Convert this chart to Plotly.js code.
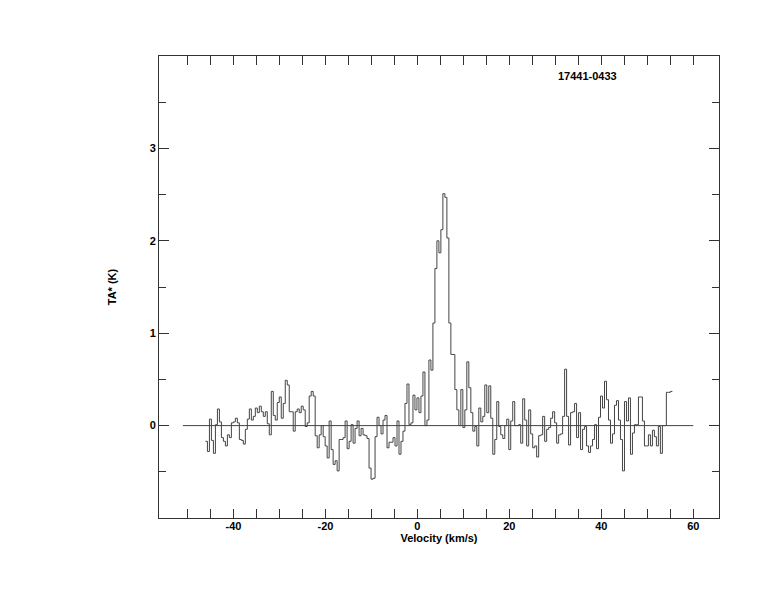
<!DOCTYPE html>
<html>
<head>
<meta charset="utf-8">
<script src="https://cdn.plot.ly/plotly-3.0.1.min.js"></script>
<style>html,body{margin:0;padding:0;background:#fff;}#chart{width:774px;height:612px;}</style>
</head>
<body>
<div id="chart"></div>
<script>
// Spectrum: source name and channel axis (km/s)
const sourceName = '17441-0433';
const velocityStart = -46.1;   // left edge of first channel
const channelWidth = 0.434;    // km/s per channel

// Antenna temperature TA* (K) per channel, read left to right
const taSegment1 = [-0.17, -0.28, 0.07, -0.16, -0.30, 0.01, 0.18, 0.04, -0.13, -0.17, -0.22, -0.10, -0.13, 0.03, 0.04, 0.08, 0.03, -0.15, -0.16, -0.20, -0.04, 0.07, 0.18, 0.06, 0.10, 0.19, 0.14];
const taSegment2 = [0.21, 0.15, 0.10, 0.15, 0.02, -0.10, 0.37, 0.11, 0.06, 0.25, 0.31, 0.08, 0.24, 0.49, 0.44, 0.15, 0.15, -0.06, 0.15, 0.18, 0.14, 0.21, 0.17, -0.01, 0.03, 0.32, 0.37, 0.32, -0.11, -0.24];
const taSegment3 = [-0.10, 0.00, -0.12, -0.22, -0.35, 0.05, -0.26, -0.42, -0.38, -0.49, -0.15, -0.15, -0.13, 0.05, -0.25, -0.17, 0.01, -0.19, -0.03, 0.05, -0.11, -0.03, -0.10, -0.11, -0.14, -0.46, -0.58, -0.57, -0.12, 0.09];
const taSegment4 = [0.00, -0.09, 0.06, 0.11, -0.24, -0.18, -0.18, -0.13, -0.22, 0.05, -0.31, -0.17, -0.06, 0.24, 0.45, 0.01, 0.03, 0.33, 0.17, 0.30];
const taPeak = [0.14, 0.32, 0.58, 0.00, 0.06, 0.71, 0.60, 1.11, 1.70, 2.00, 1.87, 2.12, 2.51, 2.47, 2.03, 1.11, 0.77, 0.77, 0.39, 0.17, 0.00, 0.39, -0.02, 0.17, 0.69];
const taSegment6 = [0.41, 0.14, -0.06, -0.01, -0.22, 0.19, 0.04, 0.10, 0.44, 0.14, 0.43, 0.08, -0.31, -0.15, 0.26, -0.01, -0.10, -0.14, 0.00, 0.07, -0.26, 0.05, 0.26, 0.00, 0.00];
const taSegment7 = [0.01, -0.19, 0.29, 0.06, -0.22, 0.17, -0.09, -0.24, -0.22, -0.34, -0.11, -0.10, 0.10, -0.17, -0.04, -0.02, 0.08, 0.15, 0.03, -0.19, -0.10, -0.09, 0.10, 0.61, 0.10, -0.21, 0.14, 0.15, 0.24, -0.13];
const taSegment8 = [0.14, -0.26, -0.04, -0.01, -0.22, -0.29, -0.22, -0.15, 0.01, -0.25, 0.09, 0.32, 0.19, 0.48, 0.28, 0.06, -0.19, -0.09, 0.22, 0.27, 0.06, -0.15, -0.49, 0.26, 0.05];
const taSegment9 = [0.30, -0.31, -0.08, 0.01, 0.01, 0.31, 0.31, 0.05, -0.22, -0.22, -0.10, -0.22, -0.05, -0.12, -0.22, -0.01, -0.30, 0.00, 0.00, 0.36, 0.36, 0.37];

// Zero baseline extent (km/s)
const baselineVel = [-51, 60];
const baselineTa = [0, 0];

// Axis ticks
const xTickVals = [-40, -20, 0, 20, 40, 60];
const xTickText = ['-40', '-20', '0', '20', '40', '60'];
const xMinorVals = [-50, -45, -35, -30, -25, -15, -10, -5, 5, 10, 15, 25, 30, 35, 45, 50, 55];
const yTickVals = [0, 1, 2, 3];
const yTickText = ['0', '1', '2', '3'];
const yMinorVals = [-0.5, 0.5, 1.5, 2.5, 3.5];

const ta = [].concat(taSegment1, taSegment2, taSegment3, taSegment4, taPeak, taSegment6, taSegment7, taSegment8, taSegment9);
const velEdges = [];
for (let i = 0; i <= ta.length; i++) velEdges.push(velocityStart + i * channelWidth);
const taSteps = ta.concat([ta[ta.length - 1]]);

const ink = '#333';
const fontBase = {family: 'Liberation Sans, Arial, Helvetica, sans-serif', size: 11, color: '#000', weight: 'bold'};

const traces = [
  {x: baselineVel, y: baselineTa, mode: 'lines', line: {color: '#444', width: 1}, hoverinfo: 'skip'},
  {x: velEdges, y: taSteps, mode: 'lines', line: {color: '#444', width: 1, shape: 'hv'}}
];

const axisCommon = {
  showgrid: false, zeroline: false, showline: true, linecolor: ink, linewidth: 1,
  mirror: 'allticks', ticks: 'inside', tickcolor: ink, tickwidth: 1,
  tickmode: 'array', tickfont: fontBase
};

const layout = {
  width: 774, height: 612,
  margin: {l: 159, r: 55, t: 55.5, b: 93.5, pad: 0},
  paper_bgcolor: '#fff', plot_bgcolor: '#fff',
  showlegend: false,
  font: fontBase,
  xaxis: Object.assign({}, axisCommon, {
    range: [-56.2, 65.6],
    tickvals: xTickVals, ticktext: xTickText, ticklen: 9, ticklabelstandoff: -2,
    minor: {tickmode: 'array', tickvals: xMinorVals, ticks: 'inside', ticklen: 9, tickcolor: ink, tickwidth: 1, showgrid: false},
    title: {text: 'Velocity (km/s)', font: fontBase, standoff: 0}
  }),
  yaxis: Object.assign({}, axisCommon, {
    range: [-1, 4],
    tickvals: yTickVals, ticktext: yTickText, ticklen: 10,
    minor: {tickmode: 'array', tickvals: yMinorVals, ticks: 'inside', ticklen: 7, tickcolor: ink, tickwidth: 1, showgrid: false},
    title: {text: 'TA* (K)', font: fontBase, standoff: 30}
  }),
  annotations: [{
    text: sourceName, xref: 'x', yref: 'y', x: 37, y: 3.78,
    showarrow: false, font: fontBase, xanchor: 'center', yanchor: 'middle'
  }]
};

Plotly.newPlot('chart', traces, layout, {staticPlot: true, displayModeBar: false});
</script>
</body>
</html>
